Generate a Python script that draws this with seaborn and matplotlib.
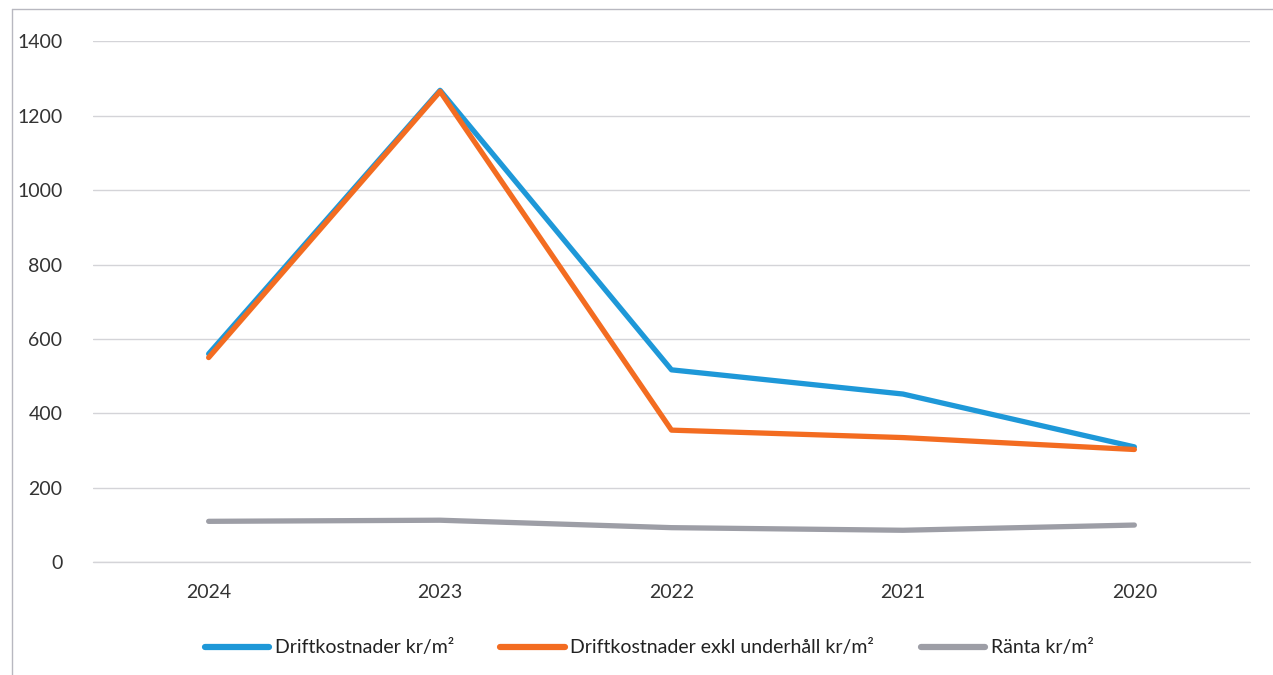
import matplotlib
matplotlib.use("Agg")
import matplotlib.pyplot as plt
import seaborn as sns
import pandas as pd
from matplotlib.lines import Line2D

years = ["2024", "2023", "2022", "2021", "2020"]
drift = [560, 1268, 517, 452, 310]
drift_exkl = [550, 1265, 355, 335, 303]
ranta = [110, 113, 93, 86, 100]

labels = ["Driftkostnader kr/m²", "Driftkostnader exkl underhåll kr/m²", "Ränta kr/m²"]
colors = ["#1e98d8", "#f36c21", "#9d9ea6"]

df = pd.DataFrame({
    "year": years * 3,
    "value": drift + drift_exkl + ranta,
    "series": [labels[0]] * 5 + [labels[1]] * 5 + [labels[2]] * 5,
})

sns.set_theme(style="white")
plt.rcParams["font.family"] = ["Lato", "DejaVu Sans"]

fig = plt.figure(figsize=(12.73, 6.75), dpi=100)
ax = fig.add_axes([0.073, 0.167, 0.909, 0.772])

sns.lineplot(data=df, x="year", y="value", hue="series", palette=colors,
             hue_order=labels, sort=False, linewidth=3.8, ax=ax, legend=False)

ax.set_xlim(-0.5, 4.5)
ax.set_ylim(0, 1400)
ax.set_yticks(range(0, 1401, 200))
ax.grid(axis="y", color="#d4d4d8", linewidth=1.0)
ax.axhline(0, color="#d4d4d8", linewidth=1.0, zorder=0, clip_on=False)
ax.set_axisbelow(True)
for s in ax.spines.values():
    s.set_visible(False)
ax.tick_params(axis="both", length=0, labelsize=14, colors="#333333")
ax.tick_params(axis="y", pad=22)
ax.tick_params(axis="x", pad=16)
ax.set_xlabel("")
ax.set_ylabel("")

handles = [Line2D([0], [0], color=c, linewidth=4.5) for c in colors]
fig.legend(handles, labels, loc="center", bbox_to_anchor=(0.51, 0.04), ncol=3,
           frameon=False, fontsize=14, handlelength=3.3, columnspacing=2.4,
           handletextpad=0.3, labelcolor="#222222")

# outer chart border (left and top)
fig.add_artist(Line2D([12 / 1273, 12 / 1273], [0, 1 - 9 / 675], transform=fig.transFigure,
                      color="#b8b8c0", linewidth=1))
fig.add_artist(Line2D([12 / 1273, 1], [1 - 9 / 675, 1 - 9 / 675], transform=fig.transFigure,
                      color="#b8b8c0", linewidth=1))

fig.savefig("out.png", dpi=100)
